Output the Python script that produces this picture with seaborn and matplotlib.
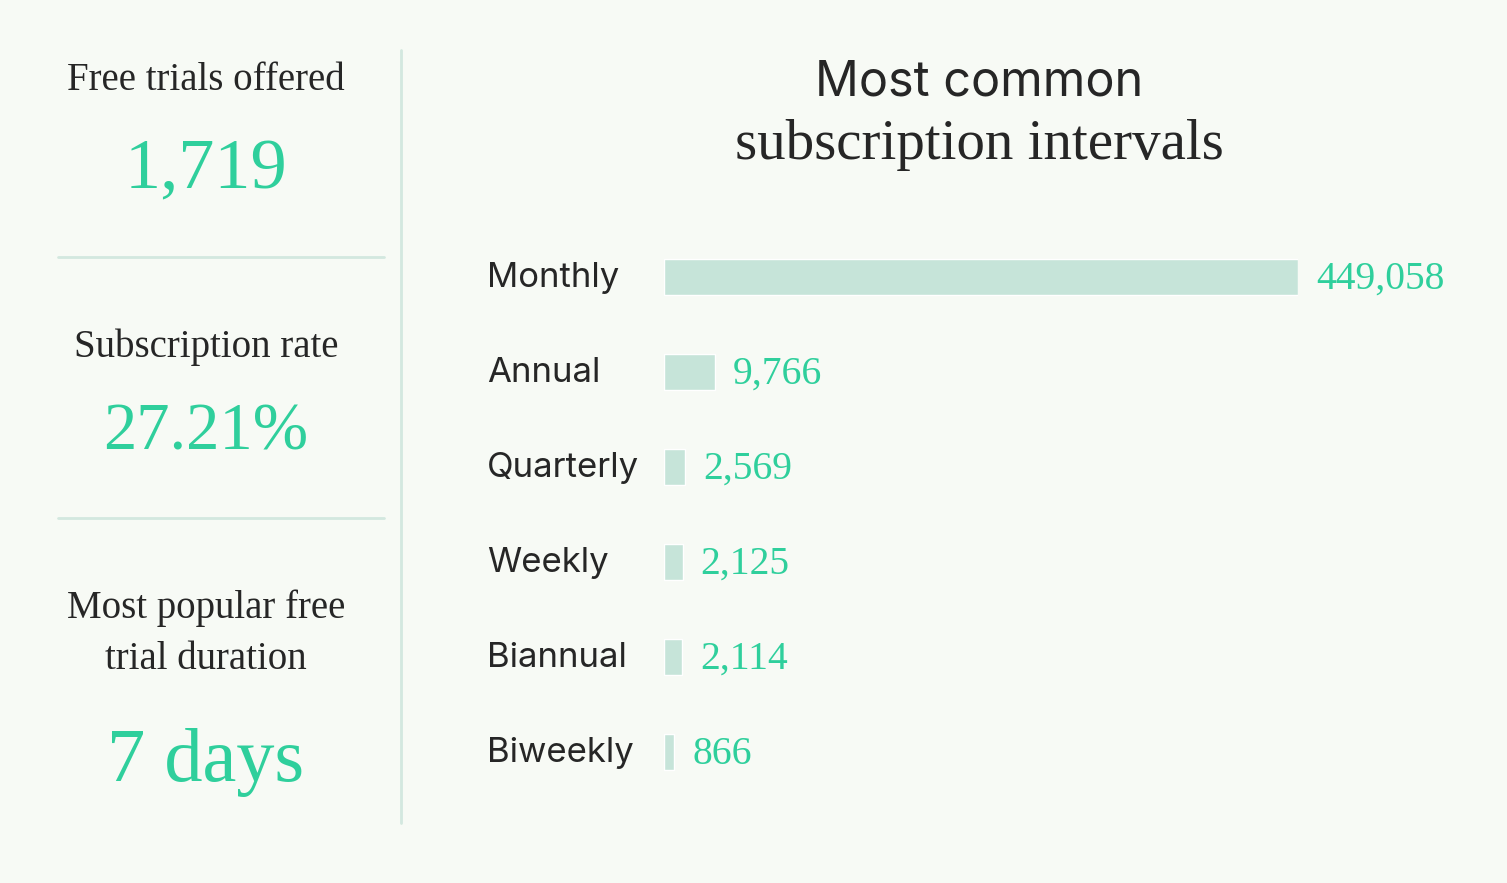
import numpy as np
import pandas as pd
import matplotlib.pyplot as plt
import matplotlib.transforms as mtransforms
import seaborn as sns

# Chart data
intervals = ['Monthly', 'Annual', 'Quarterly', 'Weekly', 'Biannual', 'Biweekly']
counts = [449058, 9766, 2569, 2125, 2114, 866]

stat_labels = ['Free trials offered', 'Subscription rate', 'Most popular free\ntrial duration']
stat_values = ['1,719', '27.21%', '7 days']

BG = '#f7faf5'
GREEN = '#2fcf9c'
BAR = '#c6e4d9'
LINE = '#d3e8df'
DARK = '#262626'
SERIF = 'Liberation Serif'
SANS = 'Inter'

W, H = 1507, 883
sns.set_theme(style='white')
fig = plt.figure(figsize=(W / 100, H / 100), dpi=100, facecolor=BG)


def fx(px):
    return px / W


def fy(py):
    return 1 - py / H


# Left stats panel
cx = 206
fig.text(fx(cx), fy(90), stat_labels[0], ha='center', va='baseline',
         family=SERIF, fontsize=28, color=DARK)
fig.text(fx(cx), fy(188), stat_values[0], ha='center', va='baseline',
         family=SERIF, fontsize=52, color=GREEN)
fig.text(fx(cx), fy(357), stat_labels[1], ha='center', va='baseline',
         family=SERIF, fontsize=28, color=DARK)
fig.text(fx(cx), fy(450), stat_values[1], ha='center', va='baseline',
         family=SERIF, fontsize=48, color=GREEN)
fig.text(fx(cx), fy(618), stat_labels[2].split('\n')[0], ha='center', va='baseline',
         family=SERIF, fontsize=28, color=DARK)
fig.text(fx(cx), fy(669), stat_labels[2].split('\n')[1], ha='center', va='baseline',
         family=SERIF, fontsize=28, color=DARK)
fig.text(fx(cx), fy(781), stat_values[2], ha='center', va='baseline',
         family=SERIF, fontsize=55, color=GREEN)

# Divider lines
for yy in [257, 518]:
    fig.add_artist(plt.Line2D([fx(58), fx(384)], [fy(yy), fy(yy)], color=LINE, lw=2))
fig.add_artist(plt.Line2D([fx(401), fx(401)], [fy(50), fy(823)], color=LINE, lw=2))

# Title
fig.text(fx(979), fy(96), 'Most common', ha='center', va='baseline',
         family=SANS, fontsize=35, color=DARK)
fig.text(fx(979), fy(159), 'subscription intervals', ha='center', va='baseline',
         family=SERIF, fontsize=41, color=DARK)

# Bar chart
df = pd.DataFrame({'interval': intervals, 'count': counts})
ax = fig.add_axes([fx(664), fy(799.5), fx(1298) - fx(664), 570 / H])
ax.set_facecolor('none')
sns.barplot(data=df, x='count', y='interval', orient='h', color=BAR,
            width=0.37, saturation=1, ax=ax)
ax.set_xscale('function', functions=(lambda v: np.abs(v) ** 0.66,
                                     lambda v: np.abs(v) ** (1 / 0.66)))
ax.set_xlim(0, max(counts))
ax.set_ylim(5.5, -0.5)
ax.set_xticks([])
ax.set_yticks([])
ax.set_xlabel('')
ax.set_ylabel('')
sns.despine(ax=ax, left=True, bottom=True)

label_tf = mtransforms.blended_transform_factory(fig.transFigure, ax.transData)
for i, (name, val) in enumerate(zip(intervals, counts)):
    ax.annotate(name, xy=(fx(487), i), xycoords=label_tf, xytext=(0, -7.5),
                textcoords='offset points', ha='left', va='baseline',
                family=SANS, fontsize=25, color=DARK)
    ax.annotate(f'{val:,}', xy=(val, i), xytext=(13, -8.6), textcoords='offset points',
                ha='left', va='baseline', family=SERIF, fontsize=28.5, color=GREEN)

fig.savefig('out.png', dpi=100, facecolor=BG)
